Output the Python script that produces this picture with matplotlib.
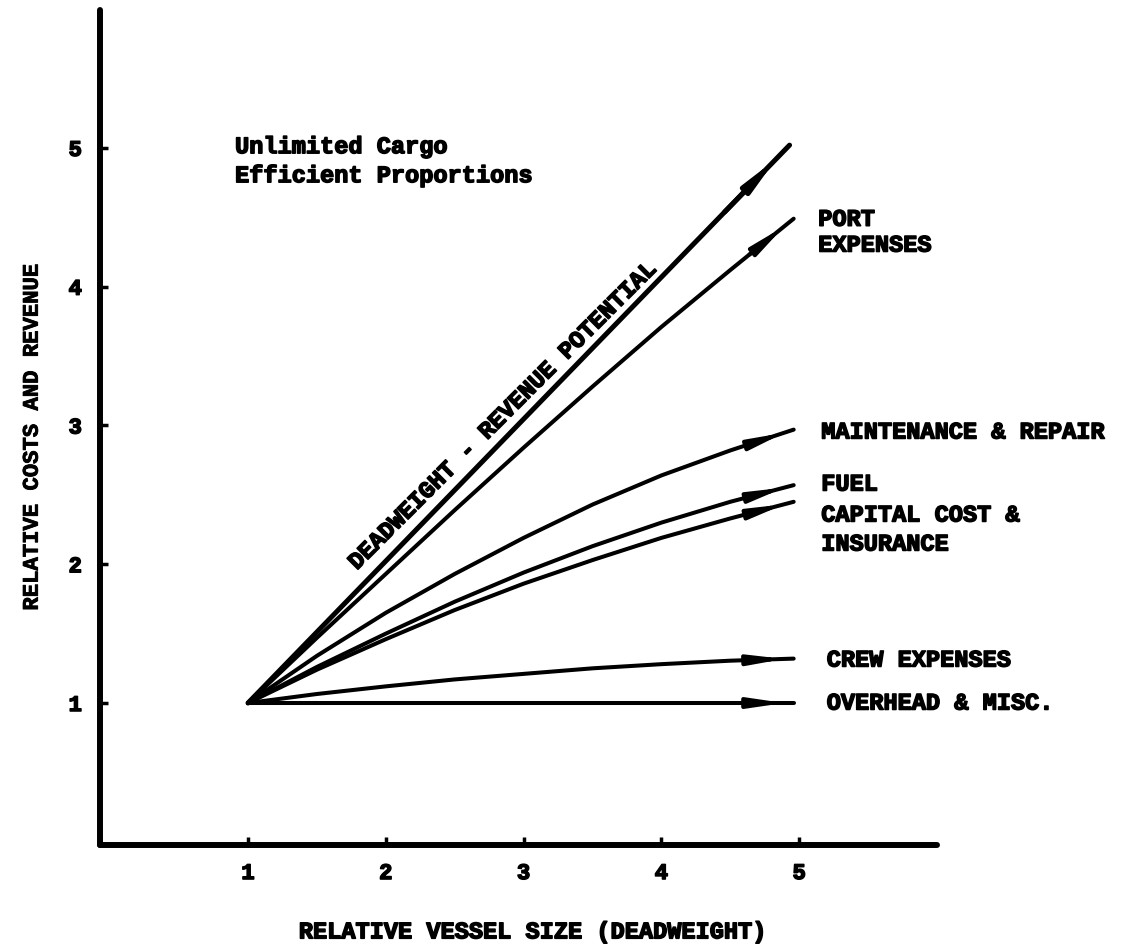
import matplotlib
matplotlib.use('Agg')
import matplotlib.pyplot as plt
import matplotlib.patheffects as pe

# values (relative units, 1 = base vessel)
x_dead = [1.0, 4.93]
y_dead = [1.0, 5.02]

x_vals = [1.0, 1.5, 2.0, 2.5, 3.0, 3.5, 4.0, 4.5, 4.96]
port = [1.0, 1.47, 1.93, 2.39, 2.84, 3.28, 3.71, 4.12, 4.49]
maint = [1.0, 1.34, 1.65, 1.93, 2.19, 2.43, 2.64, 2.82, 2.97]
fuel = [1.0, 1.26, 1.50, 1.73, 1.94, 2.13, 2.30, 2.45, 2.57]
capital = [1.0, 1.24, 1.46, 1.67, 1.86, 2.03, 2.19, 2.33, 2.45]
crew = [1.0, 1.065, 1.12, 1.17, 1.21, 1.25, 1.28, 1.305, 1.32]
overhead = [1.0, 1.0, 1.0, 1.0, 1.0, 1.0, 1.0, 1.0, 1.0]

ticks = [1, 2, 3, 4, 5]

FONT = ['Liberation Mono', 'DejaVu Sans Mono']
plt.rcParams['font.family'] = FONT
plt.rcParams['font.weight'] = 'bold'

# thicken the typewriter text a bit
heavy = [pe.withStroke(linewidth=1.1, foreground='black')]

fig = plt.figure(figsize=(11.3, 9.49), dpi=100)
ax = fig.add_axes([0.0885, 0.1096, 0.7407, 0.8799])


def draw_arrow(xs, ys, lw):
    ax.plot(xs, ys, color='black', lw=lw, solid_capstyle='round')
    # arrow head a little before the end of the line
    x0, y0 = xs[-2], ys[-2]
    x1, y1 = xs[-1], ys[-1]
    if abs(x1 - x0) > 1.0:
        t0, t1 = 0.88, 0.975
    else:
        t0, t1 = 0.3, 0.85
    start = (x0 + (x1 - x0) * t0, y0 + (y1 - y0) * t0)
    end = (x0 + (x1 - x0) * t1, y0 + (y1 - y0) * t1)
    ax.annotate('', xy=end, xytext=start,
                arrowprops=dict(arrowstyle='-|>,head_length=1.5,head_width=0.22',
                                color='black', lw=lw, mutation_scale=13,
                                shrinkA=0, shrinkB=0))


draw_arrow(x_dead, y_dead, 3.6)
for series in [port, maint, fuel, capital, crew, overhead]:
    draw_arrow(x_vals, series, 2.9)

ax.set_xlim(-0.074, 6.0)
ax.set_ylim(-0.023, 5.994)

for side in ['top', 'right']:
    ax.spines[side].set_visible(False)
for side in ['left', 'bottom']:
    ax.spines[side].set_linewidth(4.3)
    ax.spines[side].set_capstyle('round')

ax.set_xticks(ticks)
ax.set_yticks(ticks)
ax.set_xticklabels([str(t) for t in ticks])
ax.set_yticklabels([str(t) for t in ticks])
ax.tick_params(direction='in', length=6, width=2.5, labelsize=16, pad=13)
for lab in ax.get_xticklabels() + ax.get_yticklabels():
    lab.set_fontweight('bold')
    lab.set_path_effects(heavy)

ax.set_xlabel('RELATIVE VESSEL SIZE (DEADWEIGHT)', fontsize=17, fontweight='bold', va='center',
              path_effects=heavy)
ax.xaxis.set_label_coords(0.516, -0.104)
ax.set_ylabel('RELATIVE COSTS AND REVENUE', fontsize=16, fontweight='bold', va='center',
              path_effects=[pe.withStroke(linewidth=0.6, foreground='black')])
ax.yaxis.set_label_coords(-0.081, 0.489)

fs = 17
ax.text(0.906, 4.962, 'Unlimited Cargo', fontsize=fs, fontweight='bold', va='baseline',
        path_effects=heavy)
ax.text(0.906, 4.753, 'Efficient Proportions', fontsize=fs, fontweight='bold', va='baseline',
        path_effects=heavy)

ax.text(2.844, 3.068, 'DEADWEIGHT - REVENUE POTENTIAL', fontsize=fs, fontweight='bold',
        rotation=45, rotation_mode='anchor', ha='center', va='center', path_effects=heavy)

right_labels = [
    (5.138, 4.486, 'PORT'),
    (5.138, 4.300, 'EXPENSES'),
    (5.16, 2.953, 'MAINTENANCE & REPAIR'),
    (5.16, 2.578, 'FUEL'),
    (5.16, 2.355, 'CAPITAL COST &'),
    (5.16, 2.146, 'INSURANCE'),
    (5.2, 1.31, 'CREW EXPENSES'),
    (5.2, 1.0, 'OVERHEAD & MISC.'),
]
for lx, ly, txt in right_labels:
    ax.text(lx, ly, txt, fontsize=fs, fontweight='bold', va='center', ha='left', clip_on=False,
            path_effects=heavy)

fig.savefig('out.png', dpi=100)
